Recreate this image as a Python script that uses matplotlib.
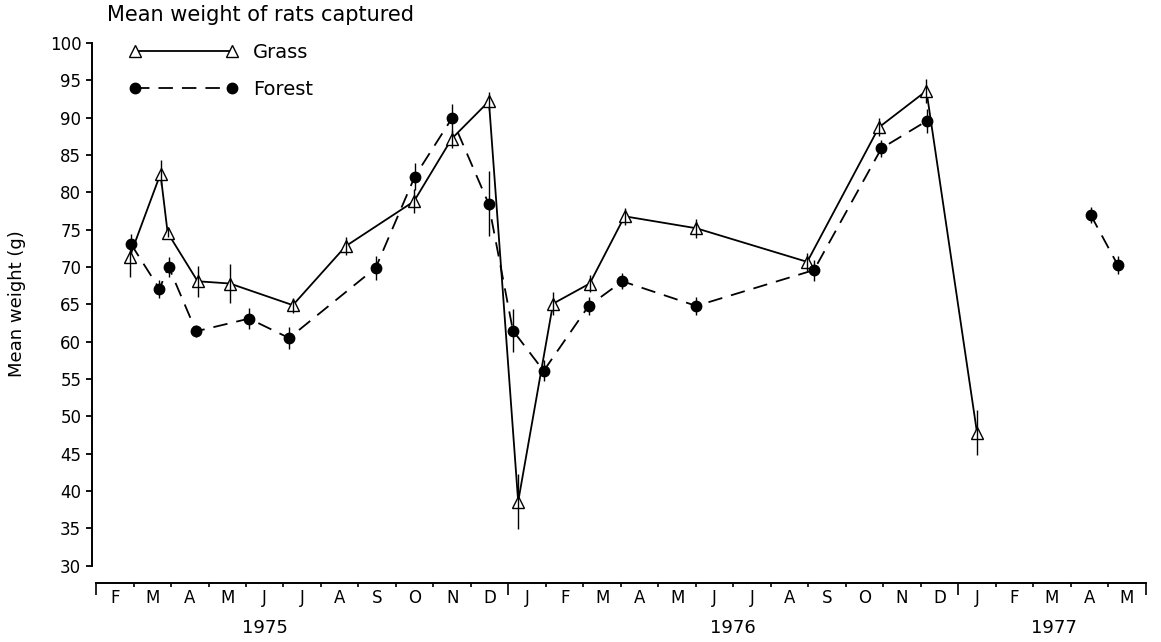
import numpy as np
import matplotlib
matplotlib.use("Agg")
import matplotlib.pyplot as plt
from matplotlib.transforms import blended_transform_factory

plt.rcParams['font.family'] = ['DejaVu Sans']

# sampling dates as fractional month index (1 = Feb 1975 ... 28 = May 1977)
grass_x = [1.40, 2.22, 2.41, 3.21, 4.07, 5.75, 7.16, 8.98, 9.99, 10.98, 11.76,
           12.69, 13.67, 14.60, 16.51, 19.47, 21.38, 22.65, 24.0]
grass_y = [71.4, 82.5, 74.6, 68.1, 67.8, 64.9, 72.8, 78.8, 87.2, 92.2, 38.6,
           65.1, 67.8, 76.8, 75.2, 70.7, 88.7, 93.6, 47.8]
grass_err_lo = [2.7, 1.5, 0.6, 2.1, 2.6, 1.0, 1.2, 1.6, 1.2, 1.2, 3.7,
                1.5, 1.1, 1.1, 1.3, 1.2, 1.2, 1.6, 3.0]
grass_err_hi = [1.0, 1.8, 0.6, 2.1, 2.6, 1.0, 1.2, 1.6, 1.2, 1.2, 3.7,
                1.5, 1.1, 1.1, 1.3, 1.2, 1.2, 1.6, 3.0]

# None marks the gap in forest sampling (Jan-Mar 1977)
forest_x = [1.43, 2.19, 2.44, 3.17, 4.58, 5.65, 7.96, 9.0, 9.99, 10.97, 11.62,
            12.44, 13.64, 14.54, 16.51, 19.65, 21.45, 22.67, None, 27.03, 27.75]
forest_y = [73.1, 67.1, 70.0, 61.4, 63.1, 60.5, 69.9, 82.1, 89.9, 78.5, 61.5,
            56.1, 64.8, 68.1, 64.8, 69.6, 85.9, 89.6, None, 77.0, 70.3]
forest_err = [1.3, 1.2, 1.3, 0.8, 1.4, 1.5, 1.6, 1.8, 1.9, 4.3, 2.9,
              1.4, 1.2, 1.1, 1.2, 1.4, 1.1, 1.6, None, 1.1, 1.2]

months = ['F', 'M', 'A', 'M', 'J', 'J', 'A', 'S', 'O', 'N', 'D',
          'J', 'F', 'M', 'A', 'M', 'J', 'J', 'A', 'S', 'O', 'N', 'D',
          'J', 'F', 'M', 'A', 'M']
years = ['1975', '1976', '1977']
year_label_x = [5.0, 17.5, 26.05]
year_breaks = [11.5, 23.5]

fx = np.array(forest_x, dtype=float)
fy = np.array(forest_y, dtype=float)
fe = np.array(forest_err, dtype=float)

fig = plt.figure(figsize=(11.61, 6.42), dpi=100)
ax = fig.add_axes([0.0790, 0.0919, 0.9111, 0.8469])

ax.plot(grass_x, grass_y, color='black', lw=1.3, marker='^', ms=8,
        mfc='white', mec='black', mew=1.0, label='Grass', zorder=3)
ax.plot(fx, fy, color='black', lw=1.3, ls=(0, (8, 5)), marker='o', ms=7.5,
        mfc='black', mec='black', label='Forest', zorder=3)

ax.errorbar(grass_x, grass_y, yerr=[grass_err_lo, grass_err_hi], fmt='none',
            ecolor='black', elinewidth=1.0, capsize=0, zorder=4)
ok = ~np.isnan(fx)
ax.errorbar(fx[ok], fy[ok], yerr=fe[ok], fmt='none',
            ecolor='black', elinewidth=1.0, capsize=0, zorder=4)

ax.set_xlim(0.385, 28.6)
ax.set_ylim(27.7, 100.5)

for s in ['top', 'right']:
    ax.spines[s].set_visible(False)
ax.spines['left'].set_bounds(30, 100)
ax.spines['bottom'].set_bounds(0.5, len(months) + 0.5)
ax.spines['left'].set_linewidth(1.4)
ax.spines['bottom'].set_linewidth(1.4)

ax.set_yticks(np.arange(30, 101, 5))
ax.tick_params(axis='y', direction='out', length=4.5, width=1.3, pad=3,
               labelsize=12)

bounds = np.arange(0.5, len(months) + 1, 1.0)
ax.set_xticks(bounds)
ax.set_xticklabels([''] * len(bounds))
ax.set_xticks(np.arange(1, len(months) + 1), minor=True)
ax.set_xticklabels(months, minor=True)
ax.tick_params(axis='x', which='major', direction='out', length=3, width=1.2)
ax.tick_params(axis='x', which='minor', length=0, pad=4.5, labelsize=12)

long_ticks = [bounds[0], bounds[-1]] + year_breaks
for t, loc in zip(ax.xaxis.get_major_ticks(), bounds):
    if loc in long_ticks:
        t.tick1line.set_markersize(8.5)

trans = blended_transform_factory(ax.transData, ax.transAxes)
for label, xpos in zip(years, year_label_x):
    ax.text(xpos, -0.083, label, transform=trans, ha='center', va='center',
            fontsize=13)

fig.text(0.0146, 0.5265, 'Mean weight (g)', rotation=90, ha='center',
         va='center', fontsize=13)
fig.text(0.0922, 0.9766, 'Mean weight of rats captured', ha='left',
         va='center', fontsize=15)

ax.legend(loc='upper left', bbox_to_anchor=(0.0355, 0.993), frameon=False,
          numpoints=2, handlelength=5.6, handletextpad=0.78, labelspacing=0.9,
          borderpad=0, borderaxespad=0, fontsize=14)

fig.savefig('out.png', dpi=100)
